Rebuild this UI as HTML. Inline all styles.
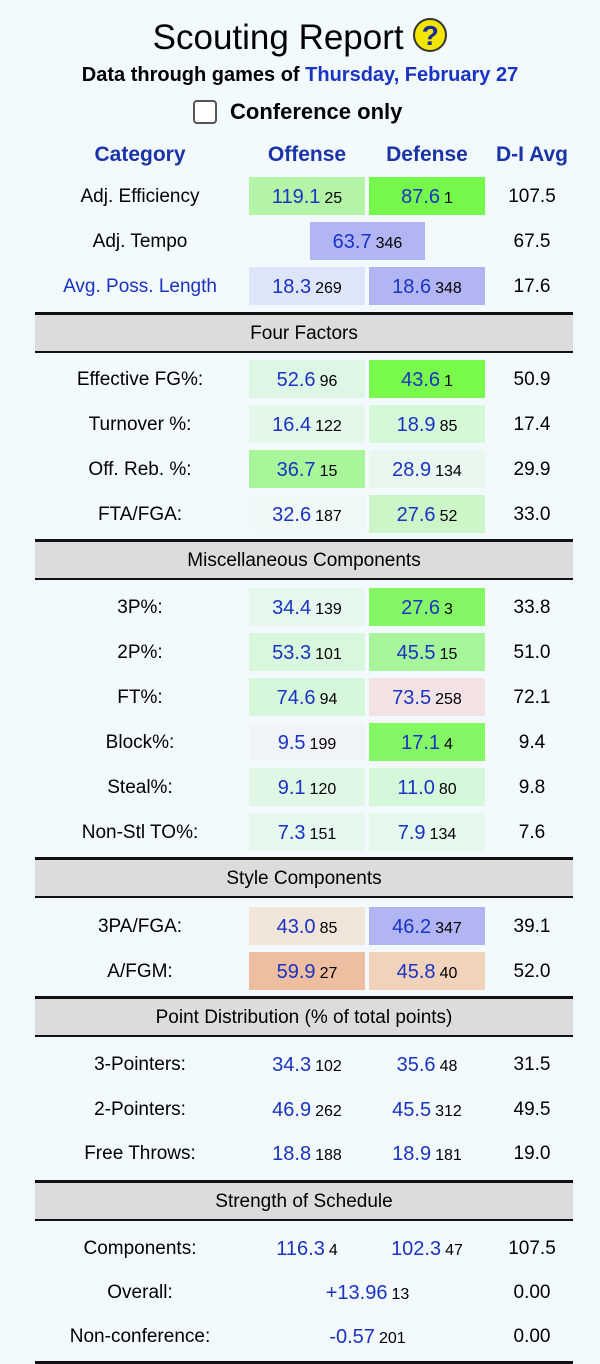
<!DOCTYPE html>
<html><head><meta charset="utf-8"><style>
body{margin:0;width:600px;height:1364px;background:#f3fafd;font-family:"Liberation Sans",sans-serif;position:relative;overflow:hidden;color:#000}
.a{position:absolute;white-space:nowrap}
.t{left:0;width:600px;text-align:center}
.cat{left:35px;width:210px;text-align:center;font-size:19px;height:38px;line-height:40px}
.c{height:38px;line-height:40px;text-align:center;width:116px}
.o{left:249px}.d{left:369px}
.v{color:#1a33c4;font-size:20px}
.r{font-size:16px;margin-left:4px}
.avg{left:490px;width:84px;text-align:center;font-size:19px;height:38px;line-height:40px}
.sec{left:35px;width:538px;background:#dcdcdc;border-top:3px solid #111;border-bottom:2px solid #111;text-align:center;font-size:19px;height:36px;line-height:38px}
.h{font-weight:bold;color:#1a33a8;font-size:21px;text-align:center}
</style></head><body>
<div class="a t" style="top:16px;font-size:35px;line-height:44px">Scouting Report <span style="display:inline-block;width:34px;height:34px;border-radius:50%;background:#f2e600;border:2px solid #333;color:#1a2a9a;font-weight:bold;font-size:28px;line-height:32px;vertical-align:4px;box-sizing:border-box">?</span></div>
<div class="a t" style="top:62px;font-size:20px;font-weight:bold;line-height:26px">Data through games of <span style="color:#1a33c4">Thursday, February 27</span></div>
<div class="a" style="left:193px;top:100px;width:20px;height:20px;border:2px solid #555;border-radius:4px;background:#fff"></div>
<div class="a" style="left:230px;top:98px;font-size:22px;font-weight:bold;line-height:28px">Conference only</div>
<div class="a h" style="left:35px;width:210px;top:143px">Category</div>
<div class="a h" style="left:249px;width:116px;top:143px">Offense</div>
<div class="a h" style="left:369px;width:116px;top:143px">Defense</div>
<div class="a h" style="left:490px;width:84px;top:143px">D-I Avg</div>

<div class="a cat" style="top:177px">Adj. Efficiency</div>
<div class="a c o" style="top:177px;background:#b3f4a7"><span class="v">119.1</span><span class="r">25</span></div>
<div class="a c d" style="top:177px;background:#76f74b"><span class="v">87.6</span><span class="r">1</span></div>
<div class="a avg" style="top:177px">107.5</div>

<div class="a cat" style="top:222px">Adj. Tempo</div>
<div class="a c" style="left:310px;width:115px;top:222px;background:#b1b5f4"><span class="v">63.7</span><span class="r">346</span></div>
<div class="a avg" style="top:222px">67.5</div>

<div class="a cat" style="top:267px;color:#1a33c4">Avg. Poss. Length</div>
<div class="a c o" style="top:267px;background:#dde5f8"><span class="v">18.3</span><span class="r">269</span></div>
<div class="a c d" style="top:267px;background:#b1b5f4"><span class="v">18.6</span><span class="r">348</span></div>
<div class="a avg" style="top:267px">17.6</div>

<div class="a sec" style="top:312px">Four Factors</div>

<div class="a cat" style="top:360px">Effective FG%:</div>
<div class="a c o" style="top:360px;background:#def7e4"><span class="v">52.6</span><span class="r">96</span></div>
<div class="a c d" style="top:360px;background:#78f94c"><span class="v">43.6</span><span class="r">1</span></div>
<div class="a avg" style="top:360px">50.9</div>

<div class="a cat" style="top:405px">Turnover %:</div>
<div class="a c o" style="top:405px;background:#e4f8ea"><span class="v">16.4</span><span class="r">122</span></div>
<div class="a c d" style="top:405px;background:#d5f8d8"><span class="v">18.9</span><span class="r">85</span></div>
<div class="a avg" style="top:405px">17.4</div>

<div class="a cat" style="top:450px">Off. Reb. %:</div>
<div class="a c o" style="top:450px;background:#a8f59a"><span class="v">36.7</span><span class="r">15</span></div>
<div class="a c d" style="top:450px;background:#e8f8ee"><span class="v">28.9</span><span class="r">134</span></div>
<div class="a avg" style="top:450px">29.9</div>

<div class="a cat" style="top:495px">FTA/FGA:</div>
<div class="a c o" style="top:495px;background:#f1f8f8"><span class="v">32.6</span><span class="r">187</span></div>
<div class="a c d" style="top:495px;background:#ccf6c8"><span class="v">27.6</span><span class="r">52</span></div>
<div class="a avg" style="top:495px">33.0</div>

<div class="a sec" style="top:539px">Miscellaneous Components</div>

<div class="a cat" style="top:588px">3P%:</div>
<div class="a c o" style="top:588px;background:#e6f7ee"><span class="v">34.4</span><span class="r">139</span></div>
<div class="a c d" style="top:588px;background:#86f764"><span class="v">27.6</span><span class="r">3</span></div>
<div class="a avg" style="top:588px">33.8</div>

<div class="a cat" style="top:633px">2P%:</div>
<div class="a c o" style="top:633px;background:#d9f7dc"><span class="v">53.3</span><span class="r">101</span></div>
<div class="a c d" style="top:633px;background:#a6f59b"><span class="v">45.5</span><span class="r">15</span></div>
<div class="a avg" style="top:633px">51.0</div>

<div class="a cat" style="top:678px">FT%:</div>
<div class="a c o" style="top:678px;background:#d6f7d9"><span class="v">74.6</span><span class="r">94</span></div>
<div class="a c d" style="top:678px;background:#f2e2e4"><span class="v">73.5</span><span class="r">258</span></div>
<div class="a avg" style="top:678px">72.1</div>

<div class="a cat" style="top:723px">Block%:</div>
<div class="a c o" style="top:723px;background:#f0f3f8"><span class="v">9.5</span><span class="r">199</span></div>
<div class="a c d" style="top:723px;background:#86f764"><span class="v">17.1</span><span class="r">4</span></div>
<div class="a avg" style="top:723px">9.4</div>

<div class="a cat" style="top:768px">Steal%:</div>
<div class="a c o" style="top:768px;background:#e0f7e6"><span class="v">9.1</span><span class="r">120</span></div>
<div class="a c d" style="top:768px;background:#d5f8da"><span class="v">11.0</span><span class="r">80</span></div>
<div class="a avg" style="top:768px">9.8</div>

<div class="a cat" style="top:813px">Non-Stl TO%:</div>
<div class="a c o" style="top:813px;background:#e6f8ee"><span class="v">7.3</span><span class="r">151</span></div>
<div class="a c d" style="top:813px;background:#e4f8ec"><span class="v">7.9</span><span class="r">134</span></div>
<div class="a avg" style="top:813px">7.6</div>

<div class="a sec" style="top:857px">Style Components</div>

<div class="a cat" style="top:907px">3PA/FGA:</div>
<div class="a c o" style="top:907px;background:#f1e4d8"><span class="v">43.0</span><span class="r">85</span></div>
<div class="a c d" style="top:907px;background:#b1b5f4"><span class="v">46.2</span><span class="r">347</span></div>
<div class="a avg" style="top:907px">39.1</div>

<div class="a cat" style="top:952px">A/FGM:</div>
<div class="a c o" style="top:952px;background:#edbfa0"><span class="v">59.9</span><span class="r">27</span></div>
<div class="a c d" style="top:952px;background:#f1d3bc"><span class="v">45.8</span><span class="r">40</span></div>
<div class="a avg" style="top:952px">52.0</div>

<div class="a sec" style="top:996px">Point Distribution (% of total points)</div>

<div class="a cat" style="top:1045px">3-Pointers:</div>
<div class="a c o" style="top:1045px"><span class="v">34.3</span><span class="r">102</span></div>
<div class="a c d" style="top:1045px"><span class="v">35.6</span><span class="r">48</span></div>
<div class="a avg" style="top:1045px">31.5</div>

<div class="a cat" style="top:1090px">2-Pointers:</div>
<div class="a c o" style="top:1090px"><span class="v">46.9</span><span class="r">262</span></div>
<div class="a c d" style="top:1090px"><span class="v">45.5</span><span class="r">312</span></div>
<div class="a avg" style="top:1090px">49.5</div>

<div class="a cat" style="top:1134px">Free Throws:</div>
<div class="a c o" style="top:1134px"><span class="v">18.8</span><span class="r">188</span></div>
<div class="a c d" style="top:1134px"><span class="v">18.9</span><span class="r">181</span></div>
<div class="a avg" style="top:1134px">19.0</div>

<div class="a sec" style="top:1180px">Strength of Schedule</div>

<div class="a cat" style="top:1229px">Components:</div>
<div class="a c o" style="top:1229px"><span class="v">116.3</span><span class="r">4</span></div>
<div class="a c d" style="top:1229px"><span class="v">102.3</span><span class="r">47</span></div>
<div class="a avg" style="top:1229px">107.5</div>

<div class="a cat" style="top:1273px">Overall:</div>
<div class="a c" style="left:310px;width:115px;top:1273px"><span class="v">+13.96</span><span class="r">13</span></div>
<div class="a avg" style="top:1273px">0.00</div>

<div class="a cat" style="top:1317px">Non-conference:</div>
<div class="a c" style="left:310px;width:115px;top:1317px"><span class="v">-0.57</span><span class="r">201</span></div>
<div class="a avg" style="top:1317px">0.00</div>

<div class="a" style="left:35px;width:538px;top:1361px;height:3px;background:#111"></div>
</body></html>
